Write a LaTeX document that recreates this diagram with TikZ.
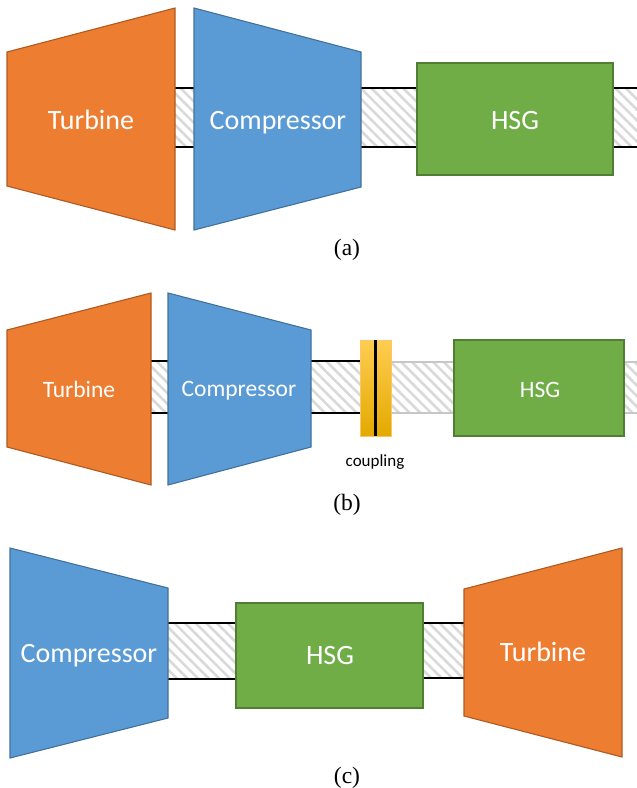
\documentclass[tikz,border=0pt]{standalone}
\usepackage{fontspec}
\setmainfont{Carlito}
\newfontfamily\capfont{Liberation Serif}
\usetikzlibrary{patterns.meta}
\definecolor{turb}{HTML}{ED7D31}
\definecolor{turbD}{HTML}{AE5A21}
\definecolor{comp}{HTML}{5B9BD5}
\definecolor{compD}{HTML}{41719C}
\definecolor{hsg}{HTML}{70AD47}
\definecolor{hsgD}{HTML}{507E32}
\definecolor{hatch}{HTML}{D9D9D9}
\definecolor{cplT}{HTML}{FFCD50}
\definecolor{cplB}{HTML}{E3A900}
\definecolor{cplD}{HTML}{F9C66A}
\tikzset{
  turbshape/.style={fill=turb,draw=turbD,line width=1.1pt,line join=miter},
  compshape/.style={fill=comp,draw=compD,line width=1.1pt,line join=miter},
  hsgshape/.style={fill=hsg,draw=hsgD,line width=1.1pt},
  shaftfill/.style={pattern={Lines[angle=-45,distance=7.5pt,line width=2.6pt]},pattern color=hatch},
  shaftedge/.style={draw=black,line width=1.4pt},
  shaftedgeg/.style={draw=hatch!80!gray,line width=1.2pt},
  lbl/.style={text=white,inner sep=0pt,anchor=base},
  bigl/.style={lbl,font=\fontsize{28}{33}\selectfont},
  midl/.style={lbl,font=\fontsize{23.5}{28}\selectfont},
  capl/.style={inner sep=0pt,anchor=base,font=\capfont\fontsize{23.5}{28}\selectfont},
}
\begin{document}
\begin{tikzpicture}[x=1pt,y=-1pt]
\useasboundingbox (0,0) rectangle (637,788);
% ---------------- (a) ----------------
\fill[shaftfill] (175,88) rectangle (194,147);
\draw[shaftedge] (175,88) -- (194,88) (175,147) -- (194,147);
\fill[shaftfill] (361,88) rectangle (417,147);
\draw[shaftedge] (361,88) -- (417,88) (361,147) -- (417,147);
\fill[shaftfill] (613,88) rectangle (637,147);
\draw[shaftedge] (613,88) -- (637,88) (613,147) -- (637,147);
\draw[turbshape] (7,52) -- (175,8) -- (175,230) -- (7,186) -- cycle;
\draw[compshape] (194,8) -- (361,52) -- (361,187) -- (194,230) -- cycle;
\draw[hsgshape] (417,63) rectangle (613,175);
\node[bigl] (ta) at (91,129) {Turbine};
\node[bigl] (ca) at (278,129) {Compressor};
\node[bigl] (ha) at (515,129) {HSG};
\node[capl] (la) at (347,255) {(a)};
% ---------------- (b) ----------------
\fill[shaftfill] (151,361) rectangle (168,413);
\draw[shaftedge] (151,361) -- (168,361) (151,413) -- (168,413);
\fill[shaftfill] (311,361) rectangle (360,413);
\draw[shaftedge] (311,361) -- (360,361) (311,413) -- (360,413);
\fill[shaftfill] (391,362) rectangle (454,413);
\draw[shaftedgeg] (391,362) -- (454,362) (391,413) -- (454,413);
\fill[shaftfill] (624,362) rectangle (637,413);
\draw[shaftedgeg] (624,362) -- (637,362) (624,413) -- (637,413);
\draw[turbshape] (7,330) -- (151,293) -- (151,485) -- (7,447) -- cycle;
\draw[compshape] (168,293) -- (311,330) -- (311,447) -- (168,485) -- cycle;
\shade[top color=cplT,bottom color=cplB,draw=cplD,line width=0.8pt] (360,340) rectangle (391,436);
\draw[black,line width=2.6pt] (375.5,340) -- (375.5,436);
\draw[hsgshape] (454,340) rectangle (624,436);
\node[midl] (tb) at (79,397) {Turbine};
\node[midl] (cb) at (239,396) {Compressor};
\node[midl] (hb) at (540,397) {HSG};
\node[inner sep=0pt,anchor=base,font=\fontsize{17}{20}\selectfont] (cpl) at (375,466) {coupling};
\node[capl] (lb) at (347,510) {(b)};
% ---------------- (c) ----------------
\fill[shaftfill] (168,623) rectangle (236,679);
\draw[shaftedge] (168,623) -- (236,623) (168,679) -- (236,679);
\fill[shaftfill] (423,623) rectangle (464,678);
\draw[shaftedge] (423,623) -- (464,623) (423,678) -- (464,678);
\draw[compshape] (10,548) -- (168,588) -- (168,718) -- (10,758) -- cycle;
\draw[hsgshape] (236,603) rectangle (423,708);
\draw[turbshape] (464,589) -- (622,548) -- (622,757) -- (464,716) -- cycle;
\node[bigl] (cc) at (89,662) {Compressor};
\node[bigl] (hc) at (330,664) {HSG};
\node[bigl] (tc) at (543,661) {Turbine};
\node[capl] (lc) at (347,783) {(c)};
\end{tikzpicture}
\end{document}
